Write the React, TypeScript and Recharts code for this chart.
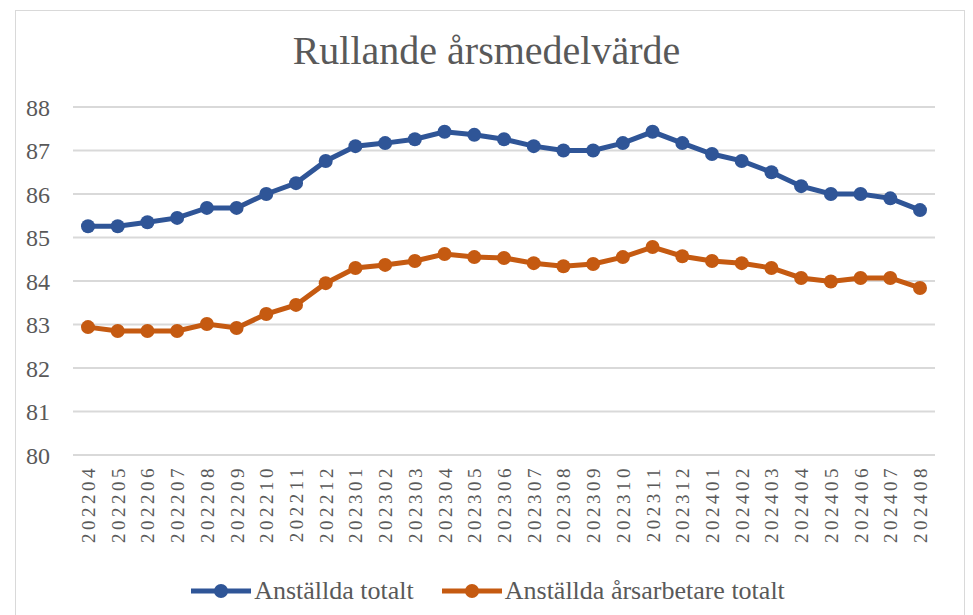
import { LineChart, Line, XAxis, YAxis, CartesianGrid, Legend } from "recharts";

const MONTHS = [
  "202204", "202205", "202206", "202207", "202208", "202209", "202210", "202211", "202212",
  "202301", "202302", "202303", "202304", "202305", "202306", "202307", "202308", "202309",
  "202310", "202311", "202312", "202401", "202402", "202403", "202404", "202405", "202406",
  "202407", "202408",
];

const TOTAL = [
  85.26, 85.26, 85.35, 85.45, 85.68, 85.68, 86.0, 86.25, 86.76,
  87.1, 87.17, 87.26, 87.43, 87.36, 87.26, 87.1, 87.0, 87.0,
  87.17, 87.43, 87.17, 86.92, 86.76, 86.5, 86.18, 86.0, 86.0,
  85.9, 85.63,
];

const FTE = [
  82.94, 82.85, 82.85, 82.85, 83.01, 82.92, 83.24, 83.45, 83.95,
  84.3, 84.37, 84.46, 84.62, 84.55, 84.53, 84.41, 84.34, 84.39,
  84.55, 84.78, 84.57, 84.46, 84.41, 84.3, 84.07, 83.99, 84.07,
  84.07, 83.84,
];

const Y_TICKS = [80, 81, 82, 83, 84, 85, 86, 87, 88];

const data = MONTHS.map((m, i) => ({ month: m, total: TOTAL[i], fte: FTE[i] }));

const BLUE = "#2F5597";
const ORANGE = "#C55A11";
const TEXT = "#595959";
const FONT = "'Liberation Serif', serif";

function MonthTick({ x, y, payload }: any) {
  return (
    <text
      transform={`rotate(-90 ${x} ${y})`}
      x={x}
      y={y}
      textAnchor="end"
      fill={TEXT}
      fontSize={19}
      fontFamily={FONT}
      letterSpacing={3.5}
    >
      <tspan x={x - 2} y={y + 7}>{payload.value}</tspan>
    </text>
  );
}

function LegendBox() {
  const items = [
    { name: "Anställda totalt", color: BLUE },
    { name: "Anställda årsarbetare totalt", color: ORANGE },
  ];
  return (
    <div style={{ display: "flex", justifyContent: "center", gap: 28, paddingTop: 21, paddingLeft: 28, height: 49 }}>
      {items.map((it) => (
        <div key={it.name} style={{ display: "flex", alignItems: "center" }}>
          <svg width={60} height={20}>
            <line x1={0} y1={10} x2={60} y2={10} stroke={it.color} strokeWidth={5} />
            <circle cx={30} cy={10} r={7} fill={it.color} />
          </svg>
          <span style={{ fontFamily: FONT, fontSize: 26, color: TEXT, marginLeft: 3 }}>{it.name}</span>
        </div>
      ))}
    </div>
  );
}

export default function App() {
  return (
    <div style={{ position: "absolute", left: 0, top: 0, width: 973, height: 615, background: "#fff" }}>
      <div
        style={{
          position: "absolute",
          left: 15,
          top: 10,
          width: 948,
          height: 620,
          border: "1px solid #d9d9d9",
        }}
      />
      <div
        style={{
          position: "absolute",
          top: 27,
          left: 0,
          width: 973,
          textAlign: "center",
          fontFamily: FONT,
          fontSize: 40,
          color: TEXT,
        }}
      >
        Rullande årsmedelvärde
      </div>
      <div style={{ position: "absolute", left: 0, top: 0 }}>
        <LineChart width={973} height={615} data={data} margin={{ top: 107, right: 38, left: 13, bottom: 0 }}>
          <CartesianGrid vertical={false} stroke="#d9d9d9" strokeWidth={2} />
          <XAxis
            dataKey="month"
            interval={0}
            height={90}
            padding={{ left: 15, right: 15 }}
            axisLine={false}
            tickLine={false}
            tick={<MonthTick />}
          />
          <YAxis
            domain={[80, 88]}
            ticks={Y_TICKS}
            width={60}
            axisLine={false}
            tickLine={false}
            tick={{ fill: TEXT, fontSize: 24, fontFamily: FONT }}
            tickMargin={17}
          />
          <Legend verticalAlign="bottom" content={<LegendBox />} />
          <Line
            dataKey="total"
            name="Anställda totalt"
            stroke={BLUE}
            strokeWidth={5}
            dot={{ r: 7, fill: BLUE, stroke: BLUE, strokeWidth: 0 }}
            isAnimationActive={false}
          />
          <Line
            dataKey="fte"
            name="Anställda årsarbetare totalt"
            stroke={ORANGE}
            strokeWidth={5}
            dot={{ r: 7, fill: ORANGE, stroke: ORANGE, strokeWidth: 0 }}
            isAnimationActive={false}
          />
        </LineChart>
      </div>
    </div>
  );
}
